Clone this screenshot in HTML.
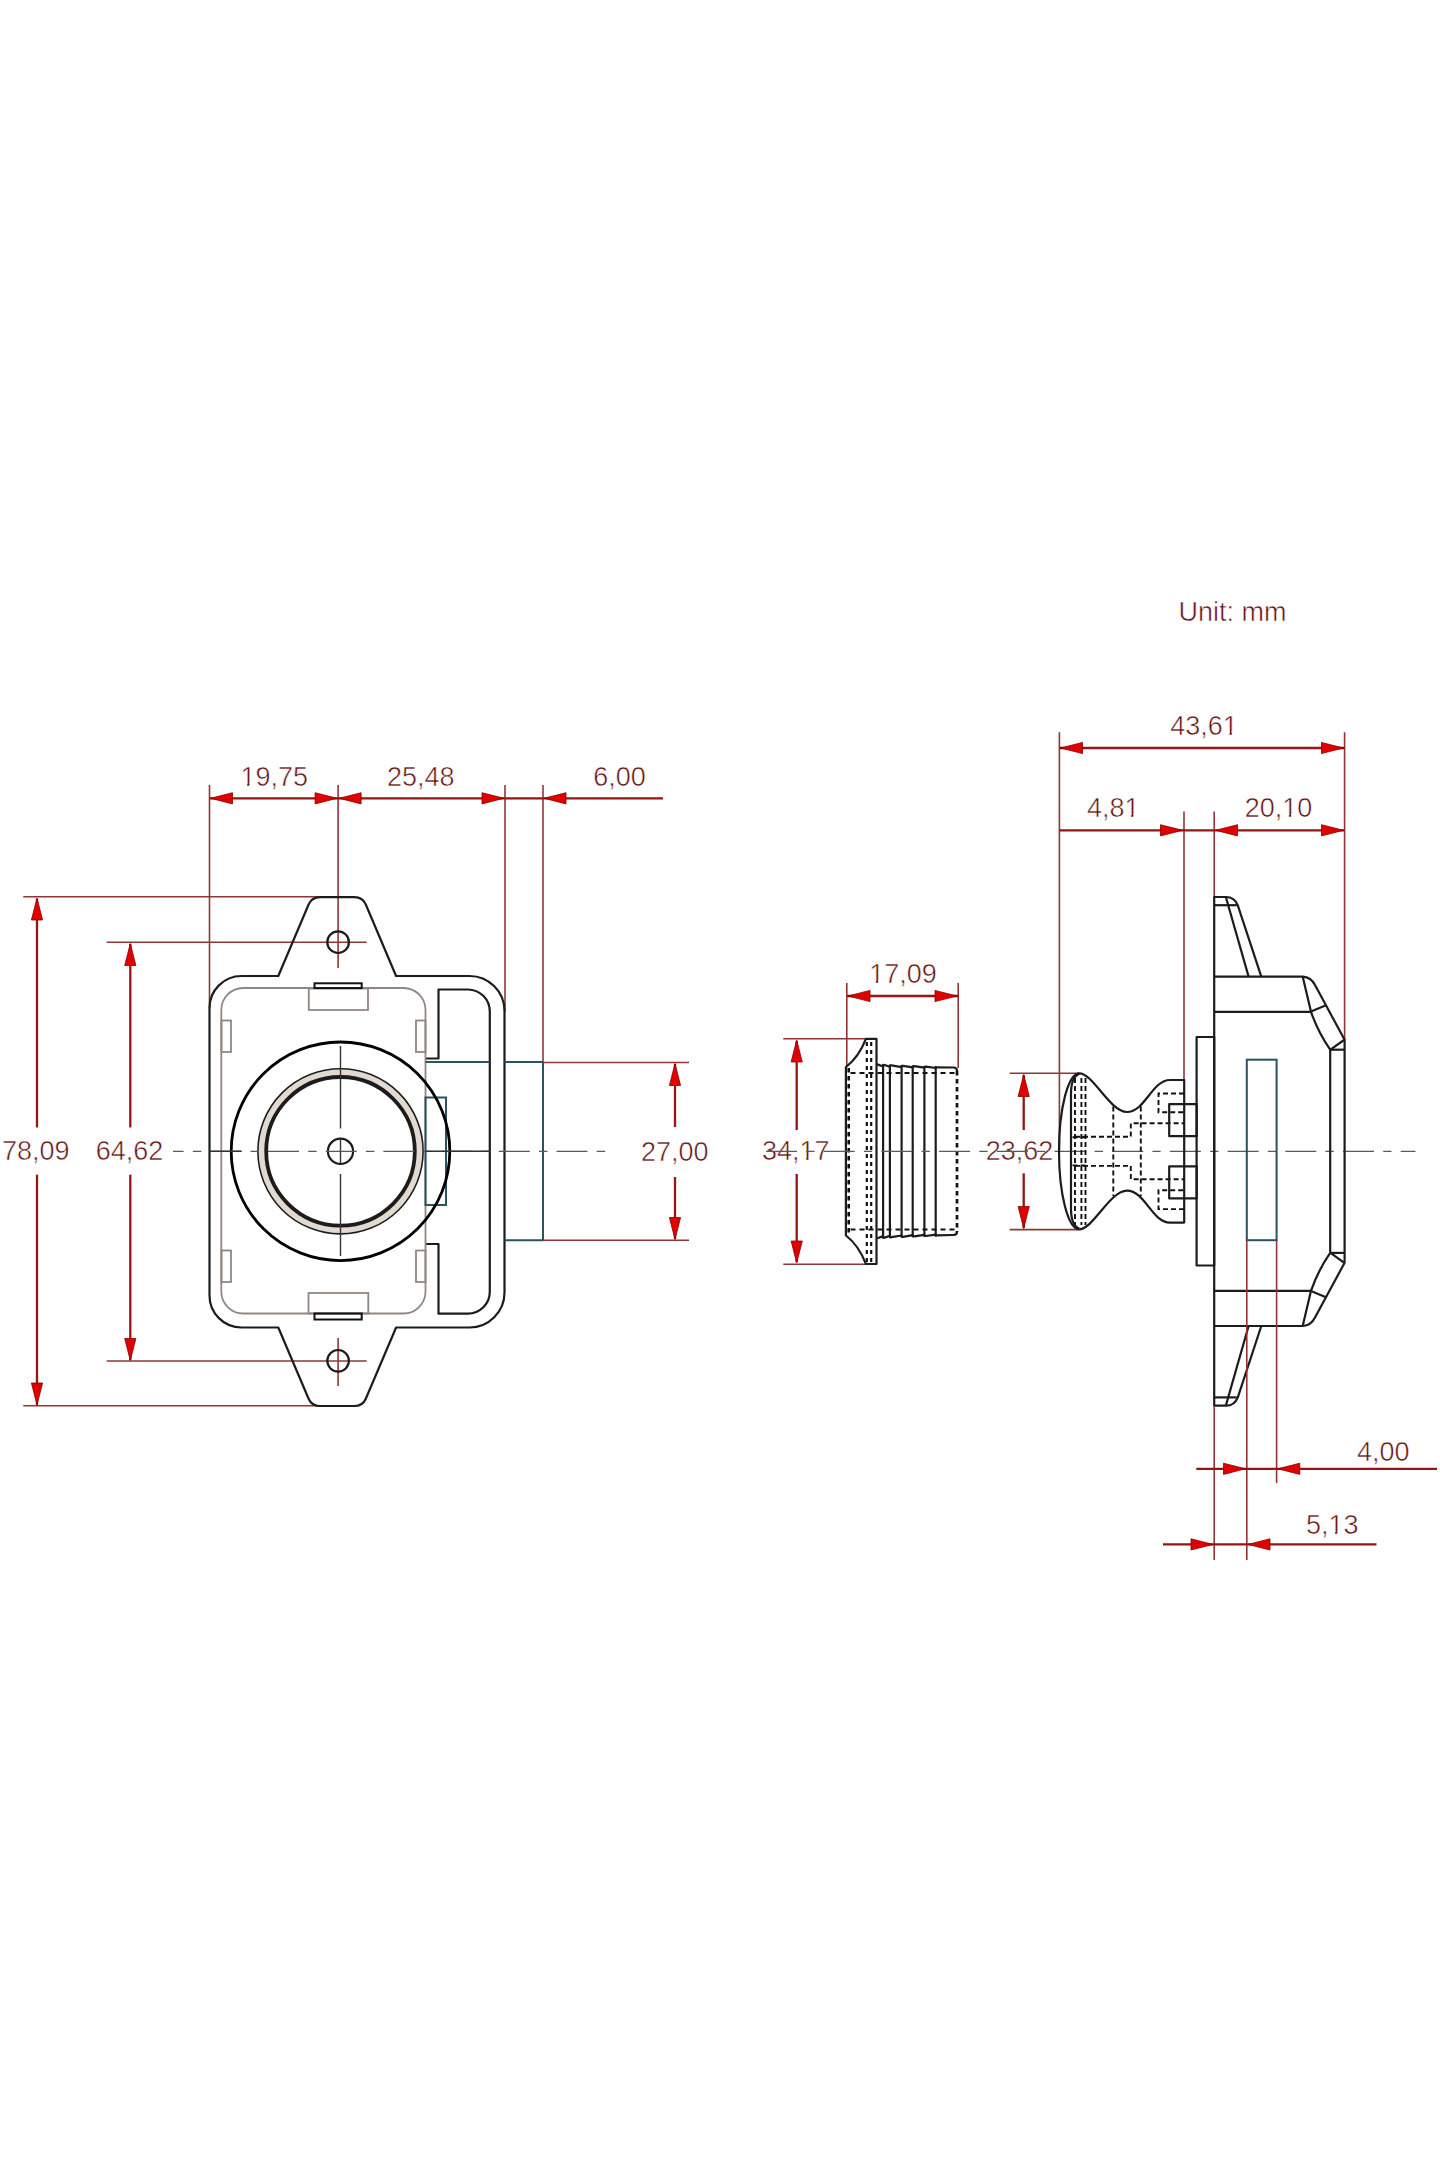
<!DOCTYPE html>
<html><head><meta charset="utf-8"><title>Latch drawing</title>
<style>
html,body{margin:0;padding:0;background:#fff;}
body{width:1440px;height:2160px;overflow:hidden;}
svg{display:block;}
.o{fill:none;stroke:#1c1c1c;stroke-width:2.2;stroke-linejoin:round;}
.o2{fill:none;stroke:#111;stroke-width:2;}
.t{fill:none;stroke:#928682;stroke-width:1.8;}
.b{fill:none;stroke:#2c5260;stroke-width:2;}
.d{stroke:#961414;stroke-width:2.3;}
.e{stroke:#903636;stroke-width:1.6;}
.c{stroke:#5a5a5a;stroke-width:1.3;}
.c0{stroke:#333;stroke-width:1.4;}
.a{fill:#e00000;stroke:#8a0000;stroke-width:0.8;stroke-linejoin:miter;}
.dt{stroke:#111;stroke-width:2.2;stroke-dasharray:4 4;}
.dk{stroke:#111;stroke-width:2.6;stroke-dasharray:4.5 3.5;}
.dk2{fill:none;stroke:#111;stroke-width:1.9;stroke-dasharray:5 3;}
.dh{stroke:#111;stroke-width:2;stroke-dasharray:5 4;}
text{font-family:"Liberation Sans",sans-serif;font-size:27px;fill:#661414;text-anchor:middle;stroke:#fff;stroke-width:0.5px;paint-order:fill;}
</style></head>
<body>
<svg width="1440" height="2160" viewBox="0 0 1440 2160">
<rect x="0" y="0" width="1440" height="2160" fill="#fff"/>
<text x="274.3" y="786.0">19,75</text>
<text x="420.8" y="786.0">25,48</text>
<text x="619.5" y="786.0">6,00</text>
<text x="35.8" y="1160.0">78,09</text>
<text x="129.6" y="1160.0">64,62</text>
<text x="674.8" y="1161.0">27,00</text>
<text x="903.0" y="983.0">17,09</text>
<text x="795.8" y="1160.0">34,17</text>
<text x="1019.6" y="1160.0">23,62</text>
<text x="1204.1" y="734.7">43,61</text>
<text x="1113.2" y="816.8">4,81</text>
<text x="1278.5" y="816.8">20,10</text>
<text x="1232.5" y="620.6">Unit: mm</text>
<text x="1383.2" y="1461.0">4,00</text>
<text x="1332.2" y="1534.0">5,13</text>
<rect x="242.01" y="783.30" width="5.1" height="3.2" fill="#fff"/>
<rect x="249.51" y="783.30" width="5.5" height="3.2" fill="#fff"/>
<rect x="870.71" y="980.30" width="5.1" height="3.2" fill="#fff"/>
<rect x="878.21" y="980.30" width="5.5" height="3.2" fill="#fff"/>
<rect x="801.04" y="1157.30" width="5.1" height="3.2" fill="#fff"/>
<rect x="808.54" y="1157.30" width="5.5" height="3.2" fill="#fff"/>
<rect x="1224.36" y="732.00" width="5.1" height="3.2" fill="#fff"/>
<rect x="1231.86" y="732.00" width="5.5" height="3.2" fill="#fff"/>
<rect x="1125.95" y="814.10" width="5.1" height="3.2" fill="#fff"/>
<rect x="1133.45" y="814.10" width="5.5" height="3.2" fill="#fff"/>
<rect x="1283.74" y="814.10" width="5.1" height="3.2" fill="#fff"/>
<rect x="1291.24" y="814.10" width="5.5" height="3.2" fill="#fff"/>
<rect x="1329.93" y="1531.30" width="5.1" height="3.2" fill="#fff"/>
<rect x="1337.43" y="1531.30" width="5.5" height="3.2" fill="#fff"/>
<line class="e" x1="209.5" y1="785.0" x2="209.5" y2="1008.0"/>
<line class="e" x1="338.1" y1="785.0" x2="338.1" y2="968.0"/>
<line class="e" x1="505.0" y1="785.0" x2="505.0" y2="1012.0"/>
<line class="e" x1="543.0" y1="785.0" x2="543.0" y2="1062.5"/>
<line class="d" x1="209.5" y1="798.3" x2="663.0" y2="798.3"/>
<polygon class="a" points="210.5,798.3 232.5,792.7 232.5,803.9"/>
<polygon class="a" points="337.1,798.3 315.1,792.7 315.1,803.9"/>
<polygon class="a" points="339.1,798.3 361.1,792.7 361.1,803.9"/>
<polygon class="a" points="504.0,798.3 482.0,792.7 482.0,803.9"/>
<polygon class="a" points="544.0,798.3 566.0,792.7 566.0,803.9"/>
<line class="e" x1="23.3" y1="896.8" x2="319.0" y2="896.8"/>
<line class="e" x1="23.3" y1="1405.8" x2="318.0" y2="1405.8"/>
<line class="d" x1="37.0" y1="899.0" x2="37.0" y2="1127.5"/>
<line class="d" x1="37.0" y1="1174.7" x2="37.0" y2="1405.0"/>
<polygon class="a" points="37.0,898.0 31.4,920.0 42.6,920.0"/>
<polygon class="a" points="37.0,1405.0 31.4,1383.0 42.6,1383.0"/>
<line class="e" x1="106.7" y1="942.2" x2="366.7" y2="942.2"/>
<line class="e" x1="106.7" y1="1361.0" x2="366.7" y2="1361.0"/>
<line class="d" x1="130.3" y1="944.0" x2="130.3" y2="1127.5"/>
<line class="d" x1="130.3" y1="1174.7" x2="130.3" y2="1360.0"/>
<polygon class="a" points="130.3,943.5 124.7,965.5 135.9,965.5"/>
<polygon class="a" points="130.3,1360.5 124.7,1338.5 135.9,1338.5"/>
<line class="e" x1="338.1" y1="1338.0" x2="338.1" y2="1386.0"/>
<line class="e" x1="543.0" y1="1062.5" x2="689.0" y2="1062.5"/>
<line class="e" x1="543.0" y1="1240.3" x2="689.0" y2="1240.3"/>
<line class="d" x1="675.0" y1="1064.0" x2="675.0" y2="1127.0"/>
<line class="d" x1="675.0" y1="1177.0" x2="675.0" y2="1239.0"/>
<polygon class="a" points="675.0,1063.5 669.4,1085.5 680.6,1085.5"/>
<polygon class="a" points="675.0,1239.5 669.4,1217.5 680.6,1217.5"/>
<path class="o" d="M209.5,1008 A32,32 0 0 1 241.5,976 L278.3,976 L308.6,904.5 Q311.8,897.2 320,897.2 L354.5,897.2 Q362.6,897.2 365.8,904.5 L396.1,976 L469,976 A35,35 0 0 1 504.5,1011 L504.5,1292.5 A35,35 0 0 1 469.5,1327.5 L396.1,1327.5 L365.8,1398.7 Q362.6,1406 354.5,1406 L320,1406 Q311.8,1406 308.6,1398.7 L278.3,1327.5 L241.5,1327.5 A32,32 0 0 1 209.5,1295.5 Z"/>
<path class="o" d="M425.5,1058.5 L438.5,1058.5 L438.5,989.5 L467.5,989.5 A22,22 0 0 1 489.8,1011.5 L489.8,1291.5 A22,22 0 0 1 467.5,1313.7 L438.5,1313.7 L438.5,1244 L425.5,1244"/>
<rect class="t" x="221.3" y="988" width="204.2" height="325.5" rx="22" ry="22"/>
<rect class="t" x="308.8" y="988.5" width="59.2" height="21.5"/>
<rect class="t" x="308.5" y="1293" width="59.8" height="20.5"/>
<rect class="t" x="221.5" y="1020.5" width="9.5" height="31.5"/>
<rect class="t" x="416" y="1020.5" width="9.5" height="31.5"/>
<rect class="t" x="221.5" y="1250.5" width="9.5" height="31.5"/>
<rect class="t" x="416" y="1250.5" width="9.5" height="31.5"/>
<rect class="o2" x="314.5" y="983.3" width="47.2" height="4.8"/>
<rect class="o2" x="314.5" y="1313.5" width="47.2" height="6"/>
<circle class="o" cx="338.1" cy="942.2" r="10.8"/>
<circle class="o" cx="338.1" cy="1360.8" r="10.8"/>
<line class="b" x1="425.5" y1="1062.0" x2="489.8" y2="1062.0"/>
<line class="b" x1="504.5" y1="1062.0" x2="543.0" y2="1062.0"/>
<line class="b" x1="543.0" y1="1062.0" x2="543.0" y2="1240.3"/>
<line class="b" x1="504.5" y1="1240.3" x2="543.0" y2="1240.3"/>
<rect class="b" x="425.5" y="1097.5" width="20.5" height="107.5"/>
<circle class="o" cx="340.5" cy="1151.3" r="109.3" style="stroke-width:2.8;stroke:#000"/>
<circle cx="340.5" cy="1151.3" r="78.3" style="fill:none;stroke:#e2d9d0;stroke-width:7"/>
<circle class="o" cx="340.5" cy="1151.3" r="82.6" style="stroke-width:1.6"/>
<circle class="o" cx="340.5" cy="1151.3" r="74.3" style="stroke-width:3.8"/>
<circle class="o" cx="340.5" cy="1151.3" r="12.6"/>
<line class="c0" x1="340.5" y1="1046.0" x2="340.5" y2="1128.5"/>
<line class="c0" x1="340.5" y1="1139.0" x2="340.5" y2="1163.5"/>
<line class="c0" x1="340.5" y1="1174.0" x2="340.5" y2="1256.0"/>
<line class="c" x1="173" y1="1151.3" x2="606" y2="1151.3" stroke-dasharray="31 9.2 8.5 9" stroke-dashoffset="20.4"/>
<line class="c0" x1="425.5" y1="1151.3" x2="489.8" y2="1151.3"/>
<line class="c0" x1="209.5" y1="1151.3" x2="241.7" y2="1151.3"/>
<line class="e" x1="846.8" y1="983.0" x2="846.8" y2="1066.0"/>
<line class="e" x1="958.2" y1="983.0" x2="958.2" y2="1068.0"/>
<line class="d" x1="846.8" y1="996.0" x2="958.2" y2="996.0"/>
<polygon class="a" points="848.0,996.0 870.0,990.4 870.0,1001.6"/>
<polygon class="a" points="957.0,996.0 935.0,990.4 935.0,1001.6"/>
<line class="e" x1="783.3" y1="1038.7" x2="866.5" y2="1038.7"/>
<line class="e" x1="783.3" y1="1264.2" x2="866.5" y2="1264.2"/>
<line class="d" x1="796.7" y1="1041.0" x2="796.7" y2="1130.0"/>
<line class="d" x1="796.7" y1="1174.0" x2="796.7" y2="1262.0"/>
<polygon class="a" points="796.7,1040.0 791.1,1062.0 802.3,1062.0"/>
<polygon class="a" points="796.7,1263.0 791.1,1241.0 802.3,1241.0"/>
<path class="o" d="M845.9,1067.1 Q858.75,1057.3 865.9,1038.9 L876.5,1038.9 L876.5,1264 L865.9,1264 Q858.75,1245.3 845.9,1235.5 Z"/>
<line class="dt" x1="866.8" y1="1042" x2="866.8" y2="1262" />
<line class="dt" x1="871.2" y1="1042" x2="871.2" y2="1262" />
<line class="dk" x1="848.7" y1="1068" x2="848.7" y2="1236" />
<path class="o" d="M876.5,1064.4 L878.0,1064.6 L883.1,1066.5 L883.1,1064.8 L884.6,1065.0 L889.9,1066.8 L889.9,1065.3 L891.4,1065.4 L901.6,1067.1 L901.6,1065.8 L903.1,1065.8 L912.7,1067.4 L912.7,1066.3 L914.2,1066.2 L924.4,1067.7 L924.4,1066.8 L925.9,1066.6 L935.7,1068.0 L935.7,1067.3 L953.5,1067.5 Q957,1067.5 957,1071 L957,1231.5 Q957,1235 953.5,1235 L935.7,1235.3 L935.7,1234.6 L925.9,1236.0 L924.4,1235.8 L924.4,1234.9 L914.2,1236.4 L912.7,1236.3 L912.7,1235.2 L903.1,1236.8 L901.6,1236.8 L901.6,1235.5 L891.4,1237.2 L889.9,1237.3 L889.9,1235.8 L884.6,1237.6 L883.1,1237.8 L883.1,1236.1 L878.0,1238.0 L876.5,1238.2"/>
<line class="o" x1="883.1" y1="1066.0" x2="883.1" y2="1236.6"/>
<line class="o" x1="889.9" y1="1066.0" x2="889.9" y2="1236.6"/>
<line class="o" x1="901.6" y1="1066.0" x2="901.6" y2="1236.6"/>
<line class="o" x1="912.7" y1="1066.0" x2="912.7" y2="1236.6"/>
<line class="o" x1="924.4" y1="1066.0" x2="924.4" y2="1236.6"/>
<line class="o" x1="935.7" y1="1066.0" x2="935.7" y2="1236.6"/>
<line x1="957" y1="1071" x2="957" y2="1231.5" style="stroke:#fff;stroke-width:3"/>
<line class="dk" x1="957" y1="1071" x2="957" y2="1232" />
<line class="dh" x1="850.5" y1="1073.1" x2="956.5" y2="1073.1"/>
<line class="dh" x1="850.5" y1="1229.5" x2="956.5" y2="1229.5"/>
<line class="c" x1="766" y1="1151.3" x2="1415.5" y2="1151.3" stroke-dasharray="31 9.2 8.3 9.2" stroke-dashoffset="0"/>
<line class="e" x1="1009.7" y1="1073.2" x2="1079.0" y2="1073.2"/>
<line class="e" x1="1009.7" y1="1229.6" x2="1079.0" y2="1229.6"/>
<line class="d" x1="1023.7" y1="1075.0" x2="1023.7" y2="1130.0"/>
<line class="d" x1="1023.7" y1="1173.3" x2="1023.7" y2="1228.0"/>
<polygon class="a" points="1023.7,1074.5 1018.1,1096.5 1029.3,1096.5"/>
<polygon class="a" points="1023.7,1228.5 1018.1,1206.5 1029.3,1206.5"/>
<line class="e" x1="1059.4" y1="732.3" x2="1059.4" y2="1150.0"/>
<line class="e" x1="1344.6" y1="732.3" x2="1344.6" y2="1040.0"/>
<line class="d" x1="1059.4" y1="748.0" x2="1344.6" y2="748.0"/>
<polygon class="a" points="1060.5,748.0 1082.5,742.4 1082.5,753.6"/>
<polygon class="a" points="1343.5,748.0 1321.5,742.4 1321.5,753.6"/>
<line class="e" x1="1184.0" y1="811.4" x2="1184.0" y2="1080.0"/>
<line class="e" x1="1214.2" y1="811.4" x2="1214.2" y2="897.0"/>
<line class="d" x1="1059.4" y1="830.3" x2="1344.6" y2="830.3"/>
<polygon class="a" points="1182.5,830.3 1160.5,824.7 1160.5,835.9"/>
<polygon class="a" points="1215.5,830.3 1237.5,824.7 1237.5,835.9"/>
<polygon class="a" points="1343.5,830.3 1321.5,824.7 1321.5,835.9"/>
<path class="o" d="M1079.4,1073.3 A20.4,78 0 0 0 1079.4,1229.3 C1093,1229.3 1110,1190.6 1127,1190.6 C1145,1190.6 1152,1222.6 1170,1222.6 L1184.2,1222.6 L1184.2,1080 L1170,1080 C1152,1080 1145,1112 1127,1112 C1110,1112 1093,1073.3 1079.4,1073.3 Z"/>
<path class="o" d="M1079.4,1073.8 Q1071.2,1077 1071,1093 L1071,1209.6 Q1071.2,1225.6 1079.4,1228.8"/>
<line class="dk2" x1="1075.0" y1="1078" x2="1075.0" y2="1225"/>
<line class="dk2" x1="1081.4" y1="1078" x2="1081.4" y2="1225"/>
<line class="dk2" x1="1085.5" y1="1078" x2="1085.5" y2="1225"/>
<line class="dk2" x1="1113.3" y1="1106.5" x2="1113.3" y2="1196"/>
<line class="dk2" x1="1140.8" y1="1106.5" x2="1140.8" y2="1196"/>
<g>
<path class="dk2" d="M1075,1136.7 L1130.8,1136.7 L1130.8,1123.3 L1184,1123.3"/>
<path class="dk2" d="M1184,1093.5 L1158.5,1093.5 L1158.5,1112.3 L1184,1112.3"/>
<path class="dk2" d="M1072.5,1137.2 L1085.5,1137.2"/>
<rect class="o" x="1169.2" y="1104.2" width="27.5" height="32"/>
</g>
<g transform="translate(0,2302.6) scale(1,-1)">
<path class="dk2" d="M1075,1136.7 L1130.8,1136.7 L1130.8,1123.3 L1184,1123.3"/>
<path class="dk2" d="M1184,1093.5 L1158.5,1093.5 L1158.5,1112.3 L1184,1112.3"/>
<path class="dk2" d="M1072.5,1137.2 L1085.5,1137.2"/>
<rect class="o" x="1169.2" y="1104.2" width="27.5" height="32"/>
</g>
<rect class="o" x="1196.6" y="1037" width="17.6" height="228.5"/>
<g>
<path class="o" d="M1214.2,1151.3 L1214.2,897 L1226,897 Q1234.5,897 1237.8,905.3 L1261.3,976.6"/>
<line class="o" x1="1214.2" y1="905.2" x2="1236.8" y2="905.2"/>
<line class="o" x1="1226.0" y1="897.5" x2="1248.6" y2="976.6"/>
<path class="o" d="M1214.2,976.6 L1302.8,976.6 Q1311,977 1315,985 L1344.6,1039.8 L1344.6,1151.3"/>
<line class="o" x1="1214.2" y1="1011.8" x2="1311.0" y2="1011.8"/>
<path class="o" d="M1302.8,977 L1311,1011.8 Q1318,1032 1330.2,1049.7 L1330.2,1151.3"/>
<line class="o" x1="1311.0" y1="1011.5" x2="1325.4" y2="1005.5"/>
<line class="o" x1="1330.5" y1="1049.7" x2="1344.0" y2="1040.0"/>
<line class="o" x1="1330.2" y1="1049.7" x2="1344.6" y2="1049.7"/>
</g>
<g transform="translate(0,2302.6) scale(1,-1)">
<path class="o" d="M1214.2,1151.3 L1214.2,897 L1226,897 Q1234.5,897 1237.8,905.3 L1261.3,976.6"/>
<line class="o" x1="1214.2" y1="905.2" x2="1236.8" y2="905.2"/>
<line class="o" x1="1226.0" y1="897.5" x2="1248.6" y2="976.6"/>
<path class="o" d="M1214.2,976.6 L1302.8,976.6 Q1311,977 1315,985 L1344.6,1039.8 L1344.6,1151.3"/>
<line class="o" x1="1214.2" y1="1011.8" x2="1311.0" y2="1011.8"/>
<path class="o" d="M1302.8,977 L1311,1011.8 Q1318,1032 1330.2,1049.7 L1330.2,1151.3"/>
<line class="o" x1="1311.0" y1="1011.5" x2="1325.4" y2="1005.5"/>
<line class="o" x1="1330.5" y1="1049.7" x2="1344.0" y2="1040.0"/>
<line class="o" x1="1330.2" y1="1049.7" x2="1344.6" y2="1049.7"/>
</g>
<rect class="b" x="1246.8" y="1059.7" width="29.8" height="180.5"/>
<line class="e" x1="1214.2" y1="1406.0" x2="1214.2" y2="1560.0"/>
<line class="e" x1="1246.8" y1="1240.2" x2="1246.8" y2="1560.0"/>
<line class="e" x1="1276.6" y1="1240.2" x2="1276.6" y2="1483.0"/>
<line class="d" x1="1196.3" y1="1468.8" x2="1437.0" y2="1468.8"/>
<polygon class="a" points="1245.5,1468.8 1223.5,1463.2 1223.5,1474.4"/>
<polygon class="a" points="1277.8,1468.8 1299.8,1463.2 1299.8,1474.4"/>
<line class="d" x1="1163.0" y1="1544.4" x2="1376.5" y2="1544.4"/>
<polygon class="a" points="1213.0,1544.4 1191.0,1538.8 1191.0,1550.0"/>
<polygon class="a" points="1248.0,1544.4 1270.0,1538.8 1270.0,1550.0"/>
</svg>
</body></html>
